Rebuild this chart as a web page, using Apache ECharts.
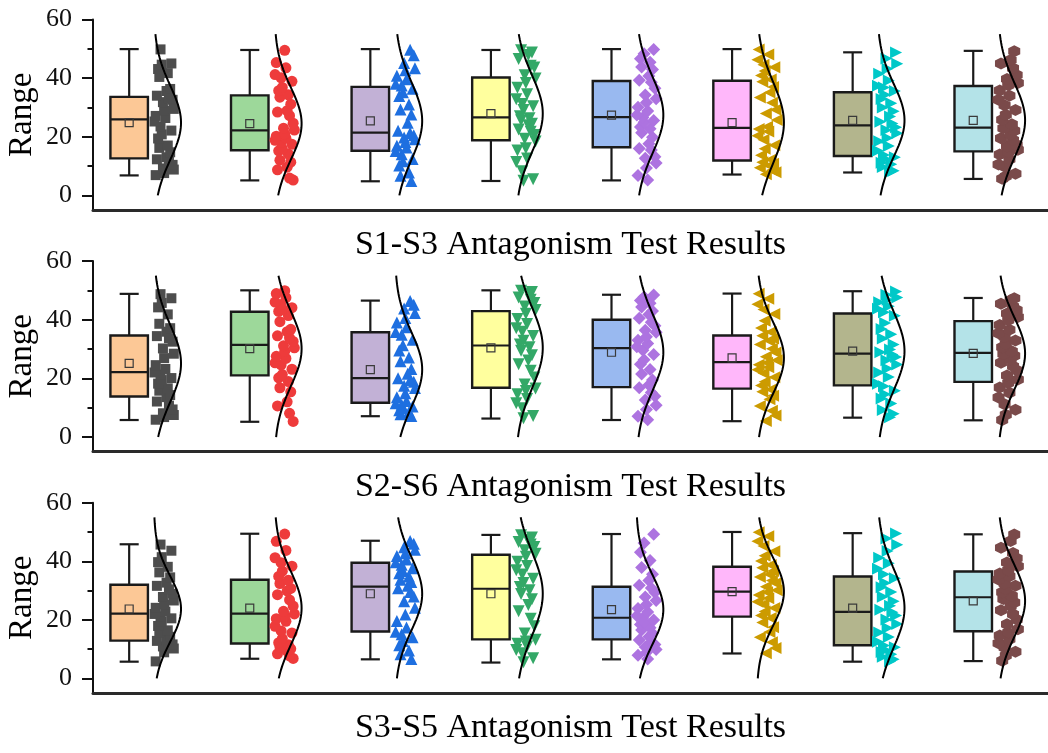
<!DOCTYPE html>
<html><head><meta charset="utf-8">
<script src="https://cdn.jsdelivr.net/npm/echarts@6/dist/echarts.min.js"></script>
<style>html,body{margin:0;padding:0;background:#fff}#chart{width:1048px;height:753px}</style>
</head><body><div id="chart"></div>
<script>
// ---------- data ----------
const PANEL_TITLES = ['S1-S3 Antagonism Test Results', 'S2-S6 Antagonism Test Results', 'S3-S5 Antagonism Test Results'];
const Y_AXIS_NAME = 'Range';
const Y_TICKS = [0, 20, 40, 60];
const Y_MINOR_TICKS = [10, 30, 50];

// box stats per group: [min, Q1, median, Q3, max]
const BOX_1 = [[6.8,12.6,25.9,33.6,49.9],[5.1,15.4,22.2,34.1,49.6],[4.8,15.2,21.4,37.0,49.9],[4.9,18.8,26.6,40.2,49.6],
               [5.1,16.4,26.7,39.0,49.9],[7.1,11.9,23.0,39.1,49.9],[7.8,13.4,23.9,35.2,48.8],[5.6,15.0,23.1,37.3,49.3]];
const MEAN_1 = [24.8, 24.5, 25.4, 27.9, 27.4, 24.8, 25.6, 25.6];
const BOX_2 = [[5.8,13.8,22.1,34.6,48.8],[5.2,21.0,31.4,42.7,50.0],[7.1,11.7,20.1,35.7,46.5],[6.3,16.8,31.2,42.9,50.0],
               [5.8,17.0,30.3,40.0,48.5],[5.4,16.5,25.5,34.6,48.9],[6.6,17.6,28.4,42.1,49.7],[5.7,18.8,28.7,39.5,47.4]];
const MEAN_2 = [25.1, 30.1, 23.0, 30.4, 28.9, 27.0, 29.3, 28.5];
const BOX_3 = [[5.7,12.9,22.1,32.0,45.8],[6.7,11.9,22.1,33.7,49.4],[6.5,16.0,31.3,39.5,47.0],[5.4,13.3,30.6,42.2,49.0],
               [6.5,13.3,20.7,31.3,49.3],[8.5,21.1,29.6,38.1,50.0],[5.7,11.3,22.7,34.8,49.6],[5.9,16.1,27.7,36.5,49.2]];
const MEAN_3 = [23.7, 24.0, 28.9, 28.9, 23.5, 29.6, 24.0, 26.5];

// raw points per group
const POINTS_1 = [
  [6.9,7.6,8.8,9.2,10.4,11.9,12.3,13.0,14.7,16.2,17.0,19.4,20.8,22.1,23.5,25.2,26.4,27.1,28.9,29.5,31.8,32.6,33.2,34.0,35.6,36.3,40.4,41.7,43.1,44.6,45.0,49.8],
  [5.2,5.9,8.7,9.6,11.3,12.0,14.1,15.2,15.9,17.4,18.1,18.8,19.5,20.2,21.0,22.3,22.9,24.6,27.2,28.4,28.9,31.1,33.5,34.3,35.7,36.8,38.9,40.1,41.2,43.5,45.3,49.5],
  [4.9,6.7,7.8,10.2,11.6,12.4,14.0,15.1,16.3,16.9,18.2,19.1,19.7,20.5,21.3,22.0,24.8,27.6,29.3,31.0,33.9,35.2,36.4,37.5,38.1,39.6,40.8,42.7,43.4,45.2,47.8,49.7],
  [5.0,5.5,8.2,11.4,12.6,15.3,16.1,18.4,19.3,20.6,21.7,22.5,23.9,24.4,25.6,26.3,27.0,29.1,30.4,31.2,32.8,34.5,36.7,38.3,39.9,41.0,43.6,44.2,46.5,47.9,48.7,49.5],
  [5.2,6.8,9.3,11.0,12.7,13.2,15.5,16.0,17.6,19.8,21.4,22.7,23.3,24.9,25.5,26.6,27.4,28.8,30.1,31.7,33.0,34.2,36.5,38.6,39.3,40.7,42.9,43.8,45.4,46.6,48.3,49.8],
  [7.2,7.9,8.6,9.4,10.1,10.8,11.3,12.2,13.7,15.9,17.1,19.0,20.3,21.8,22.6,23.4,25.7,27.9,29.2,31.6,33.4,35.1,37.0,38.8,39.5,40.9,42.4,43.7,44.6,46.3,48.1,49.8],
  [7.9,8.4,9.7,10.6,11.1,12.5,13.0,13.8,15.2,16.8,18.5,19.6,21.2,22.3,23.2,24.5,25.1,26.9,28.7,30.0,31.4,32.9,34.3,35.6,36.8,37.4,39.2,41.5,43.2,44.9,46.7,48.7],
  [5.7,6.5,7.4,9.8,10.5,12.3,13.9,14.8,15.6,16.7,17.3,18.9,19.5,20.8,22.0,22.9,24.3,25.8,27.5,29.1,30.7,32.6,34.0,35.8,37.6,38.3,39.7,41.1,43.4,45.0,46.2,49.2]
];
const POINTS_2 = [
  [5.9,6.8,7.5,8.1,9.4,10.7,12.1,13.6,14.3,15.8,16.6,18.2,19.4,20.1,21.3,22.0,23.2,24.5,26.9,28.4,30.2,32.5,33.7,34.4,35.9,37.1,38.6,41.8,44.2,45.7,47.3,48.7],
  [5.3,8.1,10.6,12.0,15.4,16.8,18.9,20.2,21.3,23.1,24.6,25.3,26.8,27.5,29.2,30.4,31.1,32.6,33.8,34.5,35.9,36.7,39.3,41.4,42.8,43.6,44.1,45.2,46.0,47.5,48.9,49.9],
  [7.2,7.8,8.5,9.1,9.8,10.4,11.0,11.5,12.3,13.6,14.9,16.7,17.5,18.8,19.4,20.0,21.6,23.2,25.8,27.1,29.5,31.3,33.2,34.9,35.8,37.4,39.0,40.6,42.3,43.8,45.1,46.4],
  [6.4,7.2,9.8,11.5,13.0,14.6,15.7,16.5,17.9,20.3,22.6,24.8,26.1,27.9,29.4,30.6,31.5,32.8,34.4,35.9,37.1,38.5,40.2,42.0,43.3,44.5,45.7,46.8,47.6,48.9,49.4,49.9],
  [5.9,7.1,9.4,10.8,12.6,13.9,15.2,16.8,17.7,19.4,21.5,23.0,24.8,26.3,28.1,29.6,30.8,31.9,33.0,34.2,35.7,36.4,37.9,39.1,40.5,41.8,43.0,44.3,45.6,46.5,47.7,48.4],
  [5.5,7.3,9.0,10.6,12.9,14.1,15.4,16.2,17.6,18.8,20.4,21.7,22.9,23.8,24.6,25.3,26.2,27.4,28.8,30.1,31.5,32.7,33.6,34.5,35.8,37.2,39.6,41.9,43.5,45.3,47.1,48.8],
  [6.7,7.9,9.2,11.4,13.1,14.6,15.8,17.3,18.2,20.5,22.0,23.4,24.7,26.2,27.3,28.1,28.9,29.8,31.5,33.6,35.0,36.8,38.9,41.3,42.5,43.7,44.6,45.9,46.8,47.6,48.5,49.6],
  [5.8,7.6,9.3,11.2,13.5,15.1,16.9,18.4,19.6,21.0,22.8,24.1,25.3,26.5,27.7,28.3,29.2,30.6,31.8,32.9,34.1,35.4,36.6,38.2,39.8,40.9,42.1,43.3,44.5,45.4,46.6,47.3]
];
const POINTS_3 = [
  [5.8,8.9,10.2,10.9,11.6,12.3,12.8,13.4,14.2,15.6,16.4,17.9,19.3,20.5,21.2,22.0,22.8,24.1,25.3,26.6,27.8,28.9,30.4,31.6,32.7,34.5,36.2,38.1,39.7,41.4,43.6,45.7],
  [6.8,7.7,8.4,9.3,10.1,10.8,11.5,12.2,13.6,15.5,16.2,17.8,19.5,20.4,21.3,22.0,22.9,24.7,26.8,28.6,29.9,30.7,32.4,33.5,34.8,36.6,38.3,39.5,41.2,43.7,46.8,49.3],
  [6.6,8.2,9.5,11.3,12.8,14.0,15.1,15.9,17.4,19.6,21.8,24.1,26.3,28.0,29.5,30.8,31.6,32.9,33.7,34.8,35.9,36.7,37.6,38.8,39.7,40.6,41.8,42.7,43.9,44.8,46.0,46.9],
  [5.5,6.9,8.6,9.7,10.9,11.8,12.6,13.2,15.3,17.8,20.4,22.9,25.1,27.0,28.8,30.1,31.2,32.6,34.0,35.5,36.9,38.4,39.8,41.5,42.6,43.8,44.9,45.7,46.6,47.3,48.1,48.9],
  [6.6,7.9,8.8,9.9,10.7,11.6,12.4,13.1,14.2,15.4,16.5,17.3,18.4,19.2,19.9,20.6,21.4,22.7,23.9,25.2,26.6,27.8,29.3,30.9,31.8,33.4,35.6,37.9,40.3,43.1,46.2,49.2],
  [8.6,10.4,12.3,14.0,15.8,17.5,19.1,20.6,21.5,22.8,24.0,25.3,26.2,27.4,28.5,29.4,30.1,31.3,32.5,33.4,34.6,35.5,36.7,37.8,38.7,40.1,41.9,43.4,45.2,46.8,48.5,49.9],
  [5.8,6.5,7.4,8.2,9.0,9.8,10.6,11.2,12.5,14.1,15.7,17.2,18.6,20.1,21.5,22.6,23.4,24.8,26.3,27.9,29.5,31.1,32.6,34.2,35.6,37.4,39.3,41.2,43.5,45.6,47.8,49.5],
  [6.0,7.8,9.1,10.5,12.0,13.4,14.6,15.7,16.8,18.5,20.1,21.9,23.3,24.6,25.9,27.1,28.2,29.4,30.5,31.6,32.4,33.8,34.9,35.8,36.9,38.3,39.6,41.0,42.8,44.6,46.9,49.1]
];

// ---------- styles ----------
const BOX_FILL = ['#FCC896', '#9DD89A', '#C2B1D6', '#FFFF9E', '#99B9F0', '#FFB7FA', '#B3B58D', '#B4E3E8'];
const PT_COLOR = ['#4D4D4D', '#EE3B3B', '#1E6FE0', '#33A867', '#AD73E0', '#CC9B00', '#00C8C8', '#7A4A4A'];
const HEX = 'path://M0,-10 L8.66,-5 L8.66,5 L0,10 L-8.66,5 L-8.66,-5 Z';
const PT_SYMBOL = ['rect', 'circle', 'triangle', 'triangle', 'diamond', 'triangle', 'triangle', HEX];
const PT_ROTATE = [0, 0, 0, 180, 0, 90, -90, 0];
const PT_SIZE = [10, 11, 12, 12, 13, 12, 12, 12];
const FONT = 'Liberation Serif';

const GRIDS = [{top: 19.5, height: 190.5}, {top: 261, height: 190.7}, {top: 502.7, height: 190.3}];
const LEFT = 93, WIDTH = 955;
const Y_NAME_X = 22;
const X_MAX = 7.92, OFF = 0.3, BOX_W = 0.311, CAP_W = 0.158;
const CURVE_BASE = 0.205, CURVE_W = 0.225, CURVE_LO = 0, CURVE_HI = 55;
const JIT = [0.22, 0.31, 0.26, 0.36, 0.24, 0.29, 0.34, 0.21, 0.33, 0.27, 0.37, 0.25, 0.30, 0.23, 0.35, 0.28, 0.32];

const PANELS = [
  {box: BOX_1, mean: MEAN_1, pts: POINTS_1},
  {box: BOX_2, mean: MEAN_2, pts: POINTS_2},
  {box: BOX_3, mean: MEAN_3, pts: POINTS_3}
];

function sdOf(a) {
  const m = a.reduce((s, v) => s + v, 0) / a.length;
  return Math.sqrt(a.reduce((s, v) => s + (v - m) * (v - m), 0) / (a.length - 1));
}

function renderBox(params, api) {
  const k = params.dataIndex;
  const x = api.value(0);
  const hw = api.size([BOX_W, 0])[0] / 2;
  const cw = api.size([CAP_W, 0])[0] / 2;
  const p = [1, 2, 3, 4, 5, 6].map(i => api.coord([x, api.value(i)]));
  const [pMin, pQ1, pMed, pQ3, pMax, pMean] = p;
  const ls = () => ({stroke: '#1a1a1a', lineWidth: 2.2});
  return {
    type: 'group',
    children: [
      {type: 'line', shape: {x1: pMax[0], y1: pMax[1], x2: pQ3[0], y2: pQ3[1]}, style: ls()},
      {type: 'line', shape: {x1: pQ1[0], y1: pQ1[1], x2: pMin[0], y2: pMin[1]}, style: ls()},
      {type: 'line', shape: {x1: pMax[0] - cw, y1: pMax[1], x2: pMax[0] + cw, y2: pMax[1]}, style: ls()},
      {type: 'line', shape: {x1: pMin[0] - cw, y1: pMin[1], x2: pMin[0] + cw, y2: pMin[1]}, style: ls()},
      {type: 'rect', shape: {x: pQ3[0] - hw, y: pQ3[1], width: 2 * hw, height: pQ1[1] - pQ3[1]},
        style: {fill: BOX_FILL[k], stroke: '#1a1a1a', lineWidth: 2.4}},
      {type: 'line', shape: {x1: pMed[0] - hw, y1: pMed[1], x2: pMed[0] + hw, y2: pMed[1]}, style: ls()},
      {type: 'rect', shape: {x: pMean[0] - 4, y: pMean[1] - 4, width: 8, height: 8},
        style: {fill: 'none', stroke: '#3a3a3a', lineWidth: 1.2}}
    ]
  };
}

const grid = [], xAxis = [], yAxis = [], series = [], graphic = [];
PANELS.forEach((P, g) => {
  grid.push({left: LEFT, width: WIDTH, top: GRIDS[g].top, height: GRIDS[g].height,
             containLabel: false, outerBoundsMode: 'none'});
  graphic.push({
    type: 'text', x: Y_NAME_X, y: GRIDS[g].top + GRIDS[g].height / 2, rotation: Math.PI / 2,
    style: {text: Y_AXIS_NAME, fontFamily: FONT, fontSize: 33, fill: '#000',
            align: 'center', verticalAlign: 'middle', textAlign: 'center', textVerticalAlign: 'middle'}
  });
  xAxis.push({
    type: 'value', gridIndex: g, min: 0, max: X_MAX,
    name: PANEL_TITLES[g], nameLocation: 'middle', nameGap: 18,
    nameTextStyle: {fontFamily: FONT, fontSize: 34, color: '#000', verticalAlign: 'top'},
    axisLine: {show: true, onZero: false, lineStyle: {color: '#2a2a2a', width: 3}},
    axisTick: {show: false}, axisLabel: {show: false}, splitLine: {show: false}
  });
  yAxis.push({
    type: 'value', gridIndex: g, min: -5, max: 60, position: 'left',
    axisLine: {show: true, lineStyle: {color: '#111', width: 2}},
    axisTick: {show: true, customValues: Y_TICKS, length: 11, lineStyle: {color: '#111', width: 2}},
    axisLabel: {show: true, customValues: Y_TICKS, margin: 21, fontFamily: FONT, fontSize: 26, color: '#111'},
    splitLine: {show: false}
  });
  yAxis.push({
    type: 'value', gridIndex: g, min: -5, max: 60, position: 'left',
    axisLine: {show: false},
    axisTick: {show: true, customValues: Y_MINOR_TICKS, length: 5.5, lineStyle: {color: '#111', width: 2}},
    axisLabel: {show: false}, splitLine: {show: false}
  });
  const yi = g * 2;
  series.push({
    type: 'custom', xAxisIndex: g, yAxisIndex: yi, z: 2,
    renderItem: renderBox,
    encode: {x: 0, y: [1, 2, 3, 4, 5, 6]},
    data: P.box.map((b, k) => [k + OFF].concat(b).concat([P.mean[k]]))
  });
  P.pts.forEach((arr, k) => {
    series.push({
      type: 'scatter', xAxisIndex: g, yAxisIndex: yi, z: 3,
      symbol: PT_SYMBOL[k], symbolRotate: PT_ROTATE[k], symbolSize: PT_SIZE[k],
      itemStyle: {color: PT_COLOR[k], opacity: 1},
      data: arr.map((v, i) => [k + OFF + JIT[(i * 5 + k * 3) % JIT.length], v])
    });
    const sd = sdOf(arr), m = P.mean[k];
    const curve = [];
    for (let v = CURVE_LO; v <= CURVE_HI + 1e-9; v += 0.5) {
      curve.push([k + OFF + CURVE_BASE + CURVE_W * Math.exp(-0.5 * Math.pow((v - m) / sd, 2)), v]);
    }
    series.push({
      type: 'line', xAxisIndex: g, yAxisIndex: yi, z: 4, showSymbol: false, symbol: 'none',
      lineStyle: {color: '#000', width: 2}, data: curve, silent: true
    });
  });
});

const chart = echarts.init(document.getElementById('chart'), null, {renderer: 'canvas'});
chart.setOption({animation: false, backgroundColor: '#fff', grid, xAxis, yAxis, series, graphic});
</script></body></html>
